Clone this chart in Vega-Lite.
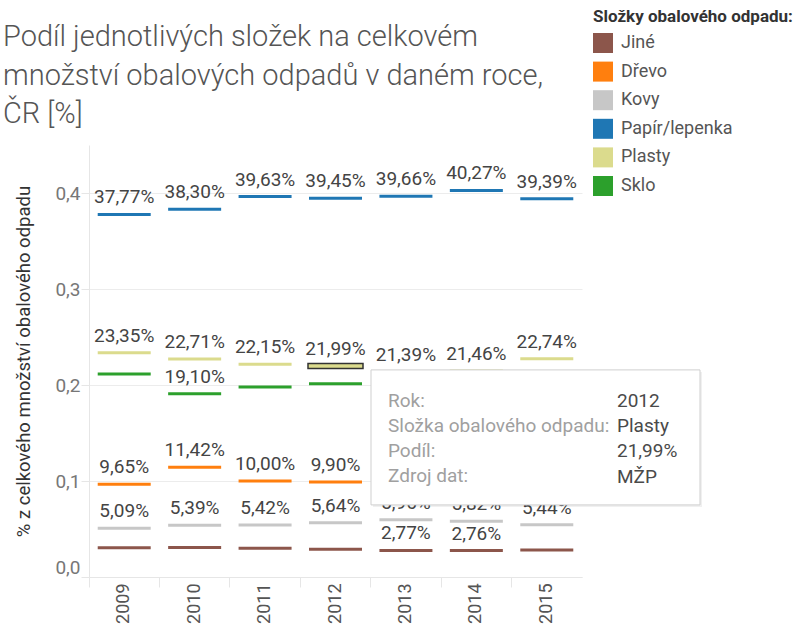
{
  "$schema": "https://vega.github.io/schema/vega-lite/v6.json",
  "width": 493,
  "height": 432,
  "autosize": {"type": "none"},
  "padding": {"left": 89, "top": 145, "right": 216, "bottom": 48},
  "background": "white",
  "title": {
    "text": ["Podíl jednotlivých složek na celkovém", "množství obalových odpadů v daném roce,", "ČR [%]"],
    "anchor": "start",
    "frame": "group",
    "dx": -86,
    "dy": 136,
    "font": "Roboto",
    "fontSize": 29,
    "fontWeight": 300,
    "color": "#555555",
    "lineHeight": 38.5,
    "offset": 16
  },
  "data": {
    "values": [
      {"rok": "2009", "slozka": "Papír/lepenka", "podil": 0.3777, "stitek": true, "zdroj": "MŽP"},
      {"rok": "2010", "slozka": "Papír/lepenka", "podil": 0.3830, "stitek": true, "zdroj": "MŽP"},
      {"rok": "2011", "slozka": "Papír/lepenka", "podil": 0.3963, "stitek": true, "zdroj": "MŽP"},
      {"rok": "2012", "slozka": "Papír/lepenka", "podil": 0.3945, "stitek": true, "zdroj": "MŽP"},
      {"rok": "2013", "slozka": "Papír/lepenka", "podil": 0.3966, "stitek": true, "zdroj": "MŽP"},
      {"rok": "2014", "slozka": "Papír/lepenka", "podil": 0.4027, "stitek": true, "zdroj": "MŽP"},
      {"rok": "2015", "slozka": "Papír/lepenka", "podil": 0.3939, "stitek": true, "zdroj": "MŽP"},
      {"rok": "2009", "slozka": "Plasty", "podil": 0.2335, "stitek": true, "zdroj": "MŽP"},
      {"rok": "2010", "slozka": "Plasty", "podil": 0.2271, "stitek": true, "zdroj": "MŽP"},
      {"rok": "2011", "slozka": "Plasty", "podil": 0.2215, "stitek": true, "zdroj": "MŽP"},
      {"rok": "2012", "slozka": "Plasty", "podil": 0.2199, "stitek": true, "zdroj": "MŽP"},
      {"rok": "2013", "slozka": "Plasty", "podil": 0.2139, "stitek": true, "zdroj": "MŽP"},
      {"rok": "2014", "slozka": "Plasty", "podil": 0.2146, "stitek": true, "zdroj": "MŽP"},
      {"rok": "2015", "slozka": "Plasty", "podil": 0.2274, "stitek": true, "zdroj": "MŽP"},
      {"rok": "2009", "slozka": "Sklo", "podil": 0.2115, "stitek": false, "zdroj": "MŽP"},
      {"rok": "2010", "slozka": "Sklo", "podil": 0.1910, "stitek": true, "zdroj": "MŽP"},
      {"rok": "2011", "slozka": "Sklo", "podil": 0.1980, "stitek": false, "zdroj": "MŽP"},
      {"rok": "2012", "slozka": "Sklo", "podil": 0.2012, "stitek": false, "zdroj": "MŽP"},
      {"rok": "2013", "slozka": "Sklo", "podil": 0.2030, "stitek": false, "zdroj": "MŽP"},
      {"rok": "2014", "slozka": "Sklo", "podil": 0.2000, "stitek": false, "zdroj": "MŽP"},
      {"rok": "2015", "slozka": "Sklo", "podil": 0.1990, "stitek": false, "zdroj": "MŽP"},
      {"rok": "2009", "slozka": "Dřevo", "podil": 0.0965, "stitek": true, "zdroj": "MŽP"},
      {"rok": "2010", "slozka": "Dřevo", "podil": 0.1142, "stitek": true, "zdroj": "MŽP"},
      {"rok": "2011", "slozka": "Dřevo", "podil": 0.1000, "stitek": true, "zdroj": "MŽP"},
      {"rok": "2012", "slozka": "Dřevo", "podil": 0.0990, "stitek": true, "zdroj": "MŽP"},
      {"rok": "2013", "slozka": "Dřevo", "podil": 0.0990, "stitek": true, "zdroj": "MŽP"},
      {"rok": "2014", "slozka": "Dřevo", "podil": 0.0969, "stitek": true, "zdroj": "MŽP"},
      {"rok": "2015", "slozka": "Dřevo", "podil": 0.0973, "stitek": true, "zdroj": "MŽP"},
      {"rok": "2009", "slozka": "Kovy", "podil": 0.0509, "stitek": true, "zdroj": "MŽP"},
      {"rok": "2010", "slozka": "Kovy", "podil": 0.0539, "stitek": true, "zdroj": "MŽP"},
      {"rok": "2011", "slozka": "Kovy", "podil": 0.0542, "stitek": true, "zdroj": "MŽP"},
      {"rok": "2012", "slozka": "Kovy", "podil": 0.0564, "stitek": true, "zdroj": "MŽP"},
      {"rok": "2013", "slozka": "Kovy", "podil": 0.0596, "stitek": true, "zdroj": "MŽP"},
      {"rok": "2014", "slozka": "Kovy", "podil": 0.0582, "stitek": true, "zdroj": "MŽP"},
      {"rok": "2015", "slozka": "Kovy", "podil": 0.0544, "stitek": true, "zdroj": "MŽP"},
      {"rok": "2009", "slozka": "Jiné", "podil": 0.0304, "stitek": false, "zdroj": "MŽP"},
      {"rok": "2010", "slozka": "Jiné", "podil": 0.0308, "stitek": false, "zdroj": "MŽP"},
      {"rok": "2011", "slozka": "Jiné", "podil": 0.0300, "stitek": false, "zdroj": "MŽP"},
      {"rok": "2012", "slozka": "Jiné", "podil": 0.0290, "stitek": false, "zdroj": "MŽP"},
      {"rok": "2013", "slozka": "Jiné", "podil": 0.0277, "stitek": true, "zdroj": "MŽP"},
      {"rok": "2014", "slozka": "Jiné", "podil": 0.0276, "stitek": true, "zdroj": "MŽP"},
      {"rok": "2015", "slozka": "Jiné", "podil": 0.0280, "stitek": false, "zdroj": "MŽP"}
    ]
  },
  "encoding": {
    "x": {
      "field": "rok",
      "type": "ordinal",
      "scale": {"paddingInner": 0, "paddingOuter": 0},
      "axis": {
        "title": null,
        "labelAngle": -90,
        "labelFont": "Roboto",
        "labelFontSize": 18,
        "labelColor": "#555555",
        "domainColor": "#e6e6e6",
        "tickColor": "#e6e6e6",
        "tickSize": 10,
        "bandPosition": 0,
        "labelPadding": -4,
        "grid": false
      }
    },
    "y": {
      "field": "podil",
      "type": "quantitative",
      "scale": {"domain": [0, 0.45], "nice": false, "zero": true},
      "axis": {
        "title": "% z celkového množství obalového odpadu",
        "titleFont": "Roboto",
        "titleFontSize": 18.5,
        "titleFontWeight": "normal",
        "titleColor": "#333333",
        "titlePadding": 21,
        "values": [0, 0.1, 0.2, 0.3, 0.4],
        "format": ".1f",
        "labelFont": "Roboto",
        "labelFontSize": 19,
        "labelColor": "#777777",
        "labelFlush": true,
        "labelPadding": 1,
        "tickSize": 8,
        "tickColor": "#e6e6e6",
        "domainColor": "#e6e6e6",
        "gridColor": "#ececec",
        "grid": true
      }
    }
  },
  "layer": [
    {
      "mark": {"type": "tick", "size": 53, "thickness": 3, "opacity": 1},
      "encoding": {
        "color": {
          "field": "slozka",
          "type": "nominal",
          "scale": {
            "domain": ["Jiné", "Dřevo", "Kovy", "Papír/lepenka", "Plasty", "Sklo"],
            "range": ["#8c564b", "#ff7f0e", "#c7c7c7", "#1f77b4", "#dbdb8d", "#2ca02c"]
          },
          "legend": {
            "title": "Složky obalového odpadu:",
            "orient": "none",
            "legendX": 504,
            "legendY": -136,
            "symbolType": "square",
            "symbolSize": 400,
            "symbolStrokeWidth": 0,
            "symbolOpacity": 1,
            "titleFont": "Roboto",
            "titleFontSize": 17,
            "titleFontWeight": "bold",
            "titleColor": "#333333",
            "titleLimit": 400,
            "titlePadding": 7,
            "labelFont": "Roboto",
            "labelFontSize": 18,
            "labelColor": "#555555",
            "labelLimit": 300,
            "labelOffset": 8,
            "rowPadding": 8.6
          }
        }
      }
    },
    {
      "transform": [{"filter": "datum.stitek"}],
      "mark": {"type": "text", "dy": -17, "font": "Roboto", "fontSize": 19, "color": "#444444", "baseline": "middle"},
      "encoding": {"text": {"field": "podil", "type": "quantitative", "format": ".2%"}}
    },
    {
      "transform": [{"filter": "datum.rok == '2012' && datum.slozka == 'Plasty'"}],
      "mark": {"type": "tick", "size": 55, "thickness": 5, "color": "#dbdb8d", "stroke": "#333333", "strokeWidth": 1.5, "opacity": 1}
    },
    {
      "transform": [{"filter": "datum.rok == '2012' && datum.slozka == 'Plasty'"}],
      "mark": {"type": "rect", "width": 329, "height": 135, "xOffset": 202, "yOffset": 73.5, "fill": "#000000", "opacity": 0.06, "clip": false}
    },
    {
      "transform": [{"filter": "datum.rok == '2012' && datum.slozka == 'Plasty'"}],
      "mark": {"type": "rect", "width": 329, "height": 135, "xOffset": 200, "yOffset": 71.5, "fill": "#ffffff", "stroke": "#cfcfcf", "strokeWidth": 1, "clip": false}
    },
    {
      "transform": [{"filter": "datum.rok == '2012' && datum.slozka == 'Plasty'"}],
      "mark": {"type": "text", "align": "left", "baseline": "alphabetic", "dx": 52.5, "dy": 40.7, "lineHeight": 25.3, "font": "Roboto", "fontSize": 19, "color": "#a0a0a0"},
      "encoding": {"text": {"value": ["Rok:", "Složka obalového odpadu:", "Podíl:", "Zdroj dat:"]}}
    },
    {
      "transform": [{"filter": "datum.rok == '2012' && datum.slozka == 'Plasty'"}],
      "mark": {"type": "text", "align": "left", "baseline": "alphabetic", "dx": 281.5, "dy": 40.7, "font": "Roboto", "fontSize": 19, "color": "#4a4a4a"},
      "encoding": {"text": {"field": "rok", "type": "nominal"}}
    },
    {
      "transform": [{"filter": "datum.rok == '2012' && datum.slozka == 'Plasty'"}],
      "mark": {"type": "text", "align": "left", "baseline": "alphabetic", "dx": 281.5, "dy": 66, "font": "Roboto", "fontSize": 19, "color": "#4a4a4a"},
      "encoding": {"text": {"field": "slozka", "type": "nominal"}}
    },
    {
      "transform": [{"filter": "datum.rok == '2012' && datum.slozka == 'Plasty'"}],
      "mark": {"type": "text", "align": "left", "baseline": "alphabetic", "dx": 281.5, "dy": 91.3, "font": "Roboto", "fontSize": 19, "color": "#4a4a4a"},
      "encoding": {"text": {"field": "podil", "type": "quantitative", "format": ".2%"}}
    },
    {
      "transform": [{"filter": "datum.rok == '2012' && datum.slozka == 'Plasty'"}],
      "mark": {"type": "text", "align": "left", "baseline": "alphabetic", "dx": 281.5, "dy": 116.7, "font": "Roboto", "fontSize": 19, "color": "#4a4a4a"},
      "encoding": {"text": {"field": "zdroj", "type": "nominal"}}
    }
  ],
  "config": {
    "view": {"stroke": null},
    "locale": {"number": {"decimal": ",", "thousands": " ", "grouping": [3], "currency": ["", " Kč"]}},
    "font": "Roboto"
  }
}
